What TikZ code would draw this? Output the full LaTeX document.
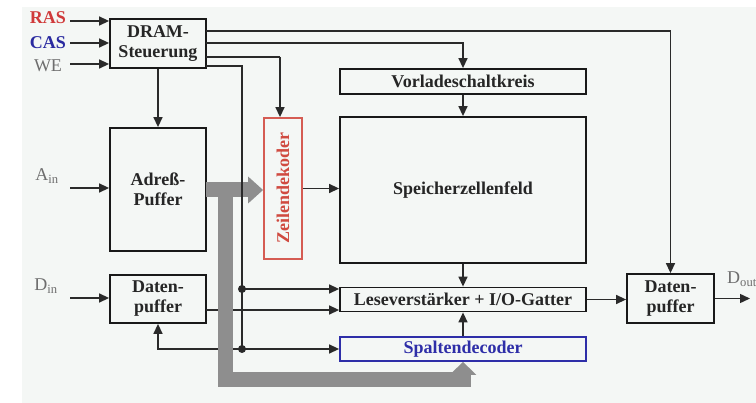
\documentclass[tikz,border=0pt]{standalone}
\usepackage{fontspec}
\setmainfont{Liberation Serif}
\usetikzlibrary{arrows.meta}
\definecolor{bg}{HTML}{F4F7F5}
\definecolor{ln}{HTML}{2A2A2A}
\definecolor{busc}{HTML}{8E8E8E}
\definecolor{rasred}{HTML}{D03A3A}
\definecolor{casblue}{HTML}{2A2AA0}
\definecolor{lblgray}{HTML}{6E6E6E}
\definecolor{zred}{HTML}{D04A40}
\definecolor{sblue}{HTML}{2E2EA8}
\begin{document}
\begin{tikzpicture}[x=1pt,y=-1pt,
  box/.style={draw=black!90, line width=1.8pt, inner sep=0pt, align=center,
    font=\fontsize{18}{20}\selectfont\bfseries, text=black!85},
  conn/.style={draw=ln, line width=1.4pt},
  arr/.style={conn, -{Triangle[length=10pt,width=9pt]}},
  dot/.style={circle, fill=ln, inner sep=0pt, minimum size=8pt},
  lbl/.style={inner sep=0pt, font=\fontsize{18}{20}\selectfont, text=lblgray},
  bus/.style={draw=busc, line width=15pt, line join=miter},
]
\useasboundingbox (0,0) rectangle (756,403);
\fill[white] (0,0) rectangle (756,403);
\fill[bg] (22,7) rectangle (756,403);

% blocks
\node[box, minimum width=96pt, minimum height=49pt] (dram) at (158,43.5) {DRAM-\\Steuerung};
\node[box, minimum width=246pt, minimum height=25pt] (vorl) at (463,81.5) {Vorladeschaltkreis};
\node[box, minimum width=246pt, minimum height=146pt] (sz) at (463,190) {Speicherzellenfeld};
\node[box, minimum width=96pt, minimum height=123pt] (adr) at (158,189.5) {Adreß-\\Puffer};
\node[box, draw=zred!90, minimum width=38pt, minimum height=141pt] (zeil) at (283,188.5) {};
\node[lbl, rotate=90, font=\fontsize{18}{20}\selectfont\bfseries, text=zred] (zeiltxt) at (zeil.center) {Zeilendekoder};
\node[box, minimum width=96pt, minimum height=48pt] (din) at (158,299) {Daten-\\puffer};
\node[box, minimum width=246pt, minimum height=24pt] (lese) at (463,299.5) {Leseverstärker + I/O-Gatter};
\node[box, draw=sblue, text=sblue, minimum width=246pt, minimum height=24pt] (spd) at (463,349) {Spaltendecoder};
\node[box, minimum width=87pt, minimum height=49pt] (dout) at (670.5,298.5) {Daten-\\puffer};

% labels
\node[lbl, font=\fontsize{18}{20}\selectfont\bfseries, text=rasred] (ras) at (48,18) {RAS};
\node[lbl, font=\fontsize{18}{20}\selectfont\bfseries, text=casblue] (cas) at (48,43) {CAS};
\node[lbl] (we) at (48,66) {WE};
\node[lbl] (ainl) at (47,176) {A\textsubscript{in}};
\node[lbl] (dinl) at (46,286) {D\textsubscript{in}};
\node[lbl, anchor=west] (doutl) at (727,279) {D\textsubscript{out}};

% coordinates
\coordinate (rasS) at (70,21);
\coordinate (casS) at (70,43);
\coordinate (weS) at (70,64);
\coordinate (ainS) at (70,188);
\coordinate (dinS) at (70,298);
\coordinate (o1) at (206,31);
\coordinate (o2) at (206,43);
\coordinate (o3) at (206,57);
\coordinate (o4) at (206,66);
\coordinate (j1) at (242,289);
\coordinate (j2) at (242,349);
\coordinate (dinE) at (206,310);
\coordinate (doutE) at (750,298.5);
\coordinate (busA) at (206,190);
\coordinate (busB) at (225,190);
\coordinate (busC) at (225,380);

% lines hidden under the bus
\draw[arr] (dinE) -- (dinE -| lese.west);
\draw[arr] (j2) -| (din.south);

% address bus
\draw[bus, -{Triangle[length=15pt,width=26pt]}] (busA) -- (busA -| zeil.west);
\draw[bus, -{Triangle[length=13pt,width=26pt]}] (busB) -- (busC) -| (spd.south);

% control inputs
\draw[arr] (rasS) -- (rasS -| dram.west);
\draw[arr] (casS) -- (casS -| dram.west);
\draw[arr] (weS) -- (weS -| dram.west);
\draw[arr] (ainS) -- (ainS -| adr.west);
\draw[arr] (dinS) -- (dinS -| din.west);

% control outputs
\draw[arr] (o1) -| (dout.north);
\draw[arr] (o2) -| (vorl.north);
\draw[arr] ([xshift=-3pt]zeil.north |- o3) -- ([xshift=-3pt]zeil.north);
\draw[conn] (o3) -- ([xshift=-3pt]zeil.north |- o3);
\draw[conn] (o4) -| (j2);
\draw[arr] (dram.south) -- (adr.north);

% data path
\draw[arr] (zeil.east) -- (zeil.east -| sz.west);
\draw[arr] (vorl.south) -- (sz.north);
\draw[arr] (sz.south) -- (lese.north);
\draw[arr] (spd.north) -- (lese.south);
\draw[arr] (j1) -- (j1 -| lese.west);
\draw[arr] (j2) -- (spd.west);
\draw[arr] (lese.east) -- (lese.east -| dout.west);
\draw[arr] (dout.east) -- (doutE);

\node[dot] (d1) at (j1) {};
\node[dot] (d2) at (j2) {};
\end{tikzpicture}
\end{document}
